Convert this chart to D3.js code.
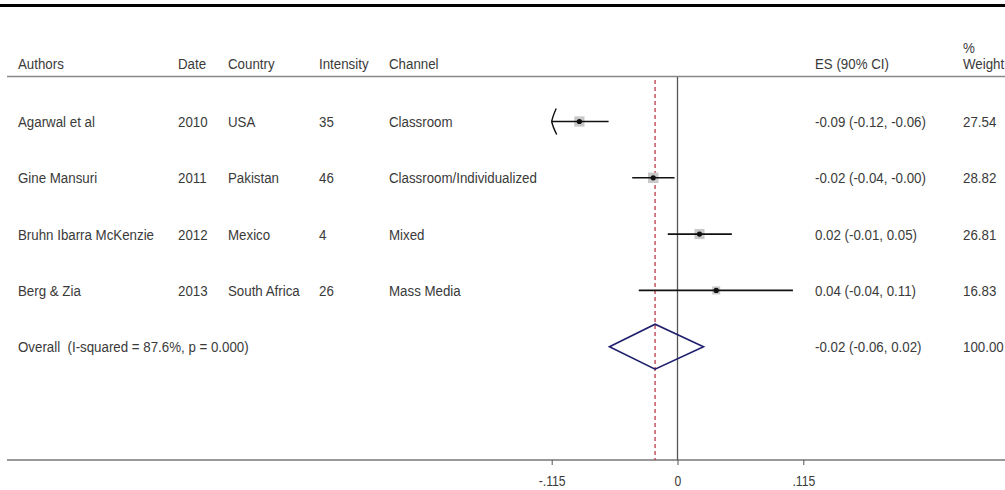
<!DOCTYPE html>
<html><head><meta charset="utf-8">
<script src="https://cdn.jsdelivr.net/npm/d3@7"></script>
<style>body{margin:0;background:#fff}svg{display:block}text{white-space:pre}</style>
</head><body>
<svg id="c" width="1005" height="490"></svg>
<script>
const authors = ["Agarwal et al","Gine Mansuri","Bruhn Ibarra McKenzie","Berg & Zia"];
const dates = ["2010","2011","2012","2013"];
const countries = ["USA","Pakistan","Mexico","South Africa"];
const intensities = ["35","46","4","26"];
const channels = ["Classroom","Classroom/Individualized","Mixed","Mass Media"];
const es = [-0.0897,-0.0222,0.0201,0.0354];
const lo = [-0.12,-0.0414,-0.0089,-0.0354];
const hi = [-0.063,-0.0027,0.0497,0.1055];
const esLabels = ["-0.09 (-0.12, -0.06)","-0.02 (-0.04, -0.00)","0.02 (-0.01, 0.05)","0.04 (-0.04, 0.11)"];
const weights = ["27.54","28.82","26.81","16.83"];
const overallLabel = "Overall  (I-squared = 87.6%, p = 0.000)";
const overallES = -0.0205, overallLo = -0.0622, overallHi = 0.0238;
const overallESLabel = "-0.02 (-0.06, 0.02)";
const overallWeight = "100.00";
const tickValues = [-0.115, 0, 0.115];
const tickLabels = ["-.115","0",".115"];

const svg = d3.select("#c");
const FONT = "Liberation Sans, Arial, sans-serif";
const TXT = "#3a3a3a";
const SX = 0.87;
const x = d3.scaleLinear().domain([-0.115, 0.115]).range([551.7, 803.3]);
const rowKeys = [...authors, "Overall"];
const y = d3.scalePoint().domain(rowKeys).range([121.5, 346.7]);

function txt(g, tx, ty, s, size=15.3) {
  g.append("text").attr("transform", `translate(${tx},${ty}) scale(${SX},1)`)
    .attr("dy","0.36em").attr("font-family",FONT).attr("font-size",size)
    .attr("fill",TXT).text(s);
}

// frame lines
svg.append("line").attr("x1",0).attr("x2",1005).attr("y1",5.5).attr("y2",5.5).attr("stroke","#000").attr("stroke-width",3);
svg.append("line").attr("x1",7).attr("x2",1005).attr("y1",76.5).attr("y2",76.5).attr("stroke","#888").attr("stroke-width",1.6);

// headers
const hy = 63;
const cols = {a:18, d:178, c:228, i:319, ch:389, es:815, w:963};
txt(svg, cols.a, hy, "Authors");
txt(svg, cols.d, hy, "Date");
txt(svg, cols.c, hy, "Country");
txt(svg, cols.i, hy, "Intensity");
txt(svg, cols.ch, hy, "Channel");
txt(svg, cols.es, hy, "ES (90% CI)");
txt(svg, cols.w, 47, "%");
txt(svg, cols.w, hy, "Weight");

// axis
const axisY = 460;
svg.append("line").attr("x1",7).attr("x2",1005).attr("y1",axisY).attr("y2",axisY).attr("stroke","#777").attr("stroke-width",1.6);
const ax = svg.append("g").attr("transform",`translate(0,${axisY})`)
  .call(d3.axisBottom(x).tickValues(tickValues).tickSize(5).tickFormat((d,i)=>tickLabels[i]));
ax.select(".domain").remove();
ax.selectAll(".tick line").attr("stroke","#555");
ax.selectAll(".tick text").attr("font-family",FONT).attr("font-size",14).attr("fill",TXT)
  .attr("y",21).attr("dy","0.35em").attr("transform",`scale(${SX},1)`);

// zero line
svg.append("line").attr("x1",x(0)).attr("x2",x(0)).attr("y1",77).attr("y2",axisY).attr("stroke","#555").attr("stroke-width",1.3);
// overall dashed line
svg.append("line").attr("x1",x(overallES)).attr("x2",x(overallES)).attr("y1",80).attr("y2",axisY)
  .attr("stroke","#c0394a").attr("stroke-width",1.3).attr("stroke-dasharray","4,3");

// rows
const xmin = x.domain()[0];
authors.forEach((a,i)=>{
  const yy = y(a);
  txt(svg, cols.a, yy, a);
  txt(svg, cols.d, yy, dates[i]);
  txt(svg, cols.c, yy, countries[i]);
  txt(svg, cols.i, yy, intensities[i]);
  txt(svg, cols.ch, yy, channels[i]);
  txt(svg, cols.es, yy, esLabels[i]);
  txt(svg, cols.w, yy, weights[i]);
  const s = 1.95*Math.sqrt(+weights[i]);
  svg.append("rect").attr("x",x(es[i])-s/2).attr("y",yy-s/2).attr("width",s).attr("height",s).attr("fill","#c8c8c8");
  const l = Math.max(lo[i], xmin);
  svg.append("line").attr("x1",x(l)).attr("x2",x(hi[i])).attr("y1",yy).attr("y2",yy).attr("stroke","#111").attr("stroke-width",1.6);
  if (lo[i] < xmin) {
    const tx = x(xmin);
    svg.append("path").attr("d",`M${tx+4.5},${yy-13} Q${tx+1},${yy-5} ${tx},${yy} Q${tx+1},${yy+5} ${tx+5},${yy+13}`)
      .attr("fill","none").attr("stroke","#111").attr("stroke-width",1.4);
  }
  svg.append("circle").attr("cx",x(es[i])).attr("cy",yy).attr("r",2.6).attr("fill","#111");
});

// overall
const oy = y("Overall");
txt(svg, cols.a, oy, overallLabel);
txt(svg, cols.es, oy, overallESLabel);
txt(svg, cols.w, oy, overallWeight);
svg.append("path").attr("d",`M${x(overallLo)},${oy} L${x(overallES)},${oy-22.5} L${x(overallHi)},${oy} L${x(overallES)},${oy+22.5} Z`)
  .attr("fill","none").attr("stroke","#1f1f6e").attr("stroke-width",1.6);
</script>
</body></html>
